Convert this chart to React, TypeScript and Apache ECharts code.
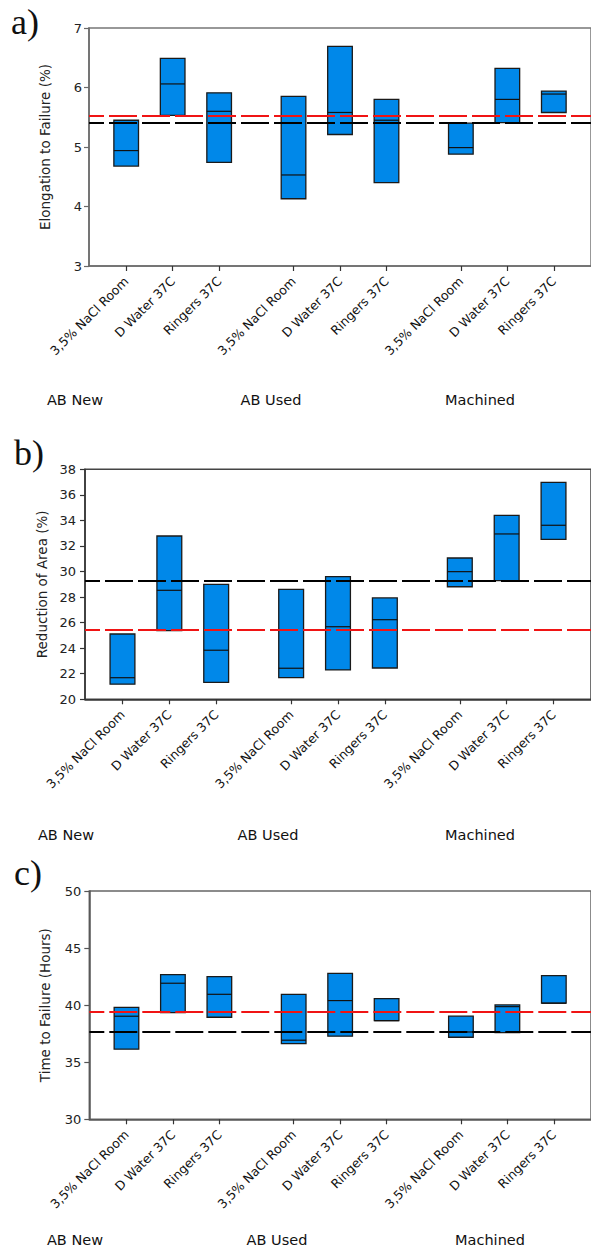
import React, { useEffect, useRef } from "react";
import * as echarts from "echarts";

// ---- categories ----
const groups = ["AB New", "AB Used", "Machined"];
const conditions = ["3,5% NaCl Room", "D Water 37C", "Ringers 37C"];
const GROUP_STEP = 3.6; // spacing between group starts (x units)

// ---- a) Elongation to Failure (%) ----
const elongLow = [4.68, 5.53, 4.74, 4.13, 5.21, 4.40, 4.88, 5.41, 5.58];
const elongMed = [4.94, 6.06, 5.60, 4.53, 5.58, 5.45, 4.99, 5.80, 5.89];
const elongHigh = [5.45, 6.49, 5.91, 5.85, 6.69, 5.80, 5.40, 6.32, 5.94];
const elongRed = 5.52;
const elongBlack = 5.40;

// ---- b) Reduction of Area (%) ----
const raLow = [21.18, 25.37, 21.33, 21.69, 22.30, 22.45, 28.81, 29.28, 32.52];
const raMed = [21.69, 28.53, 23.84, 22.43, 25.68, 26.23, 29.99, 32.94, 33.62];
const raHigh = [25.11, 32.78, 29.00, 28.61, 29.60, 27.93, 31.06, 34.40, 36.98];
const raRed = 25.43;
const raBlack = 29.28;

// ---- c) Time to Failure (Hours) ----
const ttfLow = [36.14, 39.34, 38.94, 36.63, 37.28, 38.64, 37.19, 37.60, 40.17];
const ttfMed = [39.03, 41.92, 40.95, 36.93, 40.40, 38.64, 37.65, 39.87, 40.17];
const ttfHigh = [39.81, 42.67, 42.50, 40.95, 42.79, 40.57, 39.03, 40.02, 42.58];
const ttfRed = 39.38;
const ttfBlack = 37.65;

const FONT = "DejaVu Sans";
const BOX_W = 0.53;

const positions: number[] = [];
const posLabels: string[] = [];
groups.forEach((g, gi) => {
  conditions.forEach((c, ci) => {
    positions.push(+(gi * GROUP_STEP + ci + 1).toFixed(2));
    posLabels.push(c);
  });
});

function labelFor(v: number) {
  for (let i = 0; i < positions.length; i++) {
    if (Math.abs(positions[i] - v) < 0.01) return posLabels[i];
  }
  return "";
}

function buildData(lo: number[], med: number[], hi: number[]) {
  return positions.map((p, i) => [p, lo[i], med[i], hi[i]]);
}

const renderBox = (params: any, api: any) => {
  const x = api.value(0);
  const lo = api.value(1);
  const med = api.value(2);
  const hi = api.value(3);
  const pTop = api.coord([x, hi]);
  const pBot = api.coord([x, lo]);
  const pMed = api.coord([x, med]);
  const w = api.size([BOX_W, 0])[0];
  return {
    type: "group",
    children: [
      {
        type: "rect",
        shape: { x: pTop[0] - w / 2, y: pTop[1], width: w, height: pBot[1] - pTop[1] },
        style: { fill: "#0088e9", stroke: "#1a1a1a", lineWidth: 1.3 },
      },
      {
        type: "line",
        shape: { x1: pMed[0] - w / 2, y1: pMed[1], x2: pMed[0] + w / 2, y2: pMed[1] },
        style: { stroke: "#111", lineWidth: 1.2 },
      },
    ],
  };
};

interface PanelCfg {
  left: number;
  top: number;
  height: number;
  unit: number;
  yMin: number;
  yMax: number;
  yStep: number;
  name: string;
  nameGap: number;
  labelMargin: number;
  axisColor: string;
  borderColor: string;
  data: number[][];
  red: number;
  black: number;
}

const X_MIN = 0.2;
const X_MAX = 11;

export default function App() {
  const ref = useRef<HTMLDivElement>(null);
  useEffect(() => {
    if (!ref.current) return;
    const chart = echarts.init(ref.current, undefined, { renderer: "svg" });

    const panels: PanelCfg[] = [
      {
        left: 89, top: 28, height: 238, unit: 47.3, yMin: 3, yMax: 7, yStep: 1,
        name: "Elongation to Failure (%)", nameGap: 37, labelMargin: 7,
        axisColor: "#6a6a6a", borderColor: "#777",
        data: buildData(elongLow, elongMed, elongHigh), red: elongRed, black: elongBlack,
      },
      {
        left: 85, top: 469.3, height: 230, unit: 47.58, yMin: 20, yMax: 38, yStep: 2,
        name: "Reduction of Area (%)", nameGap: 35, labelMargin: 9,
        axisColor: "#333", borderColor: "#444",
        data: buildData(raLow, raMed, raHigh), red: raRed, black: raBlack,
      },
      {
        left: 89.3, top: 891, height: 228.3, unit: 47.3, yMin: 30, yMax: 50, yStep: 5,
        name: "Time to Failure (Hours)", nameGap: 37, labelMargin: 8,
        axisColor: "#555", borderColor: "#666",
        data: buildData(ttfLow, ttfMed, ttfHigh), red: ttfRed, black: ttfBlack,
      },
    ];

    const grid: any[] = [];
    const xAxis: any[] = [];
    const yAxis: any[] = [];
    const series: any[] = [];

    panels.forEach((p, i) => {
      grid.push({
        left: p.left,
        top: p.top,
        width: (X_MAX - X_MIN) * p.unit,
        height: p.height,
        show: true,
        borderColor: p.borderColor,
        borderWidth: 1.5,
      });
      xAxis.push({
        type: "value",
        gridIndex: i,
        min: X_MIN,
        max: X_MAX,
        axisLine: { show: true, lineStyle: { color: p.axisColor, width: 1.5 } },
        axisTick: { show: true, length: 5, customValues: positions, lineStyle: { color: "#333", width: 1.2 } },
        axisLabel: {
          customValues: positions,
          formatter: (v: number) => labelFor(v),
          rotate: 45,
          margin: 13,
          fontFamily: FONT,
          fontSize: 12.5,
          color: "#111",
        },
        splitLine: { show: false },
      });
      yAxis.push({
        type: "value",
        gridIndex: i,
        min: p.yMin,
        max: p.yMax,
        interval: p.yStep,
        axisLine: { show: true, lineStyle: { color: p.axisColor, width: 1.5 } },
        axisTick: { show: true, length: 5, lineStyle: { color: p.axisColor, width: 1.2 } },
        axisLabel: { fontFamily: FONT, fontSize: 13, color: "#222", margin: p.labelMargin },
        splitLine: { show: false },
        name: p.name,
        nameLocation: "middle",
        nameGap: p.nameGap,
        nameTextStyle: { fontFamily: FONT, fontSize: 13.5, color: "#222" },
      });
      series.push({
        type: "custom",
        xAxisIndex: i,
        yAxisIndex: i,
        renderItem: renderBox,
        data: p.data,
        z: 2,
        clip: false,
      });
      series.push({
        type: "line",
        xAxisIndex: i,
        yAxisIndex: i,
        data: [],
        z: 5,
        markLine: {
          silent: true,
          symbol: ["none", "none"],
          label: { show: false },
          data: [
            { yAxis: p.black, lineStyle: { color: "#000", width: 2.2, type: [28, 5], dashOffset: 13 } },
            { yAxis: p.red, lineStyle: { color: "#f01414", width: 2.2, type: [28, 5], dashOffset: 13 } },
          ],
        },
      });
    });

    const groupLabelPos = [
      { y: 400, xs: [75, 271, 480] },
      { y: 835, xs: [66, 268, 480] },
      { y: 1240, xs: [75, 277, 490] },
    ];
    const panelLetters = [
      { t: "a)", x: 11, y: 22 },
      { t: "b)", x: 14, y: 453 },
      { t: "c)", x: 14, y: 873 },
    ];
    const graphic: any[] = [];
    groupLabelPos.forEach((gp) => {
      gp.xs.forEach((x, gi) => {
        graphic.push({
          type: "text",
          x,
          y: gp.y,
          style: {
            text: groups[gi],
            align: "center",
            verticalAlign: "middle",
            textAlign: "center",
            textVerticalAlign: "middle",
            font: `14.5px "${FONT}"`,
            fill: "#111",
          },
        });
      });
    });
    panelLetters.forEach((pl) => {
      graphic.push({
        type: "text",
        x: pl.x,
        y: pl.y,
        style: {
          text: pl.t,
          align: "left",
          verticalAlign: "middle",
          textAlign: "left",
          textVerticalAlign: "middle",
          font: `36px "Liberation Serif"`,
          fill: "#111",
        },
      });
    });

    chart.setOption({
      animation: false,
      backgroundColor: "#fff",
      grid,
      xAxis,
      yAxis,
      series,
      graphic,
    });
    return () => chart.dispose();
  }, []);

  return (
    <div
      ref={ref}
      style={{ position: "absolute", left: 0, top: 0, width: 591, height: 1251 }}
    />
  );
}
